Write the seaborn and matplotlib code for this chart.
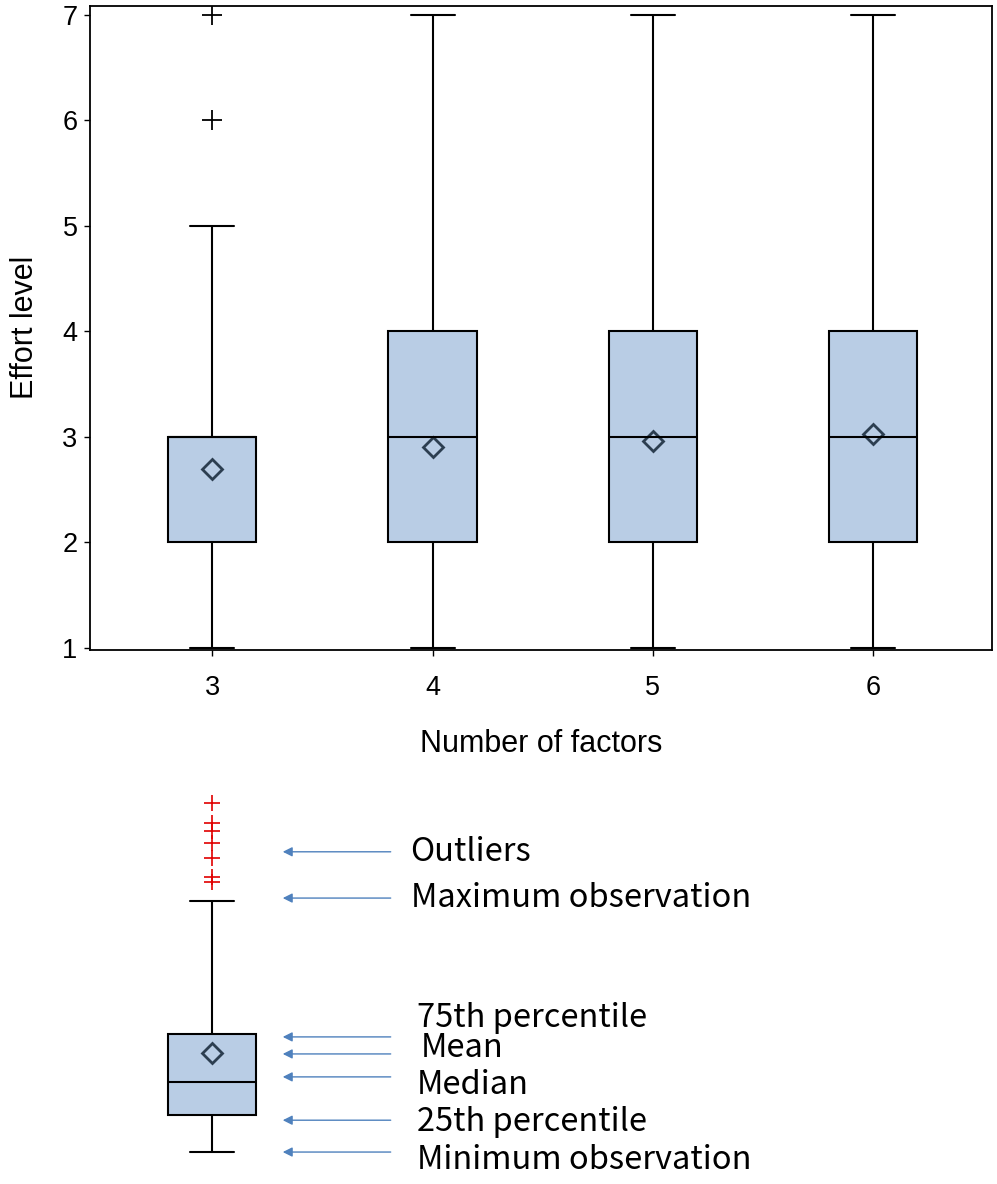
import pandas as pd
import matplotlib
matplotlib.use("Agg")
import matplotlib.pyplot as plt
import seaborn as sns

# Five-number summaries per group (min, q1, median, q3, max whisker)
factor_labels = ["3", "4", "5", "6"]
whisker_min = [1, 1, 1, 1]
q1_values = [2, 2, 2, 2]
median_values = [3, 3, 3, 3]
q3_values = [3, 4, 4, 4]
whisker_max = [5, 7, 7, 7]
mean_values = [2.70, 2.90, 2.96, 3.03]
outlier_groups = ["3", "3"]
outlier_values = [6, 7]

# Illustrative box for the key below the chart
key_summary = [1.0, 2.0, 2.89, 4.19, 7.78]   # min, q1, median, q3, max
key_mean = 3.68
key_outliers = [8.30, 8.43, 8.95, 9.35, 9.68, 9.89, 10.43]
key_labels = ["Outliers", "Maximum observation", "75th percentile", "Mean",
              "Median", "25th percentile", "Minimum observation"]
key_arrow_y = [9.11, 7.86, 4.11, 3.65, 3.03, 1.86, 1.0]
key_text_y = [9.11, 7.86, 4.62, 3.81, 2.81, 1.81, 0.78]
key_text_x = [0.90, 0.90, 0.93, 0.945, 0.93, 0.93, 0.93]

box_color = "#b9cde5"
mean_edge = "#2c3e50"

sns.set_theme(style="white")
tick_font = "Liberation Sans"
key_font = ["Noto Sans CJK KR", "DejaVu Sans"]

fig = plt.figure(figsize=(9.97, 11.84), dpi=100)
ax = fig.add_axes([0.0903, 0.451, 0.9047, 0.5443])
key_ax = fig.add_axes([0.0903, 0.0076, 0.9047, 0.3252])

# build long-form table from the summary lists
rows = []
for i, lab in enumerate(factor_labels):
    for v in (whisker_min[i], q1_values[i], median_values[i], q3_values[i], whisker_max[i]):
        rows.append({"factors": lab, "effort": v})
box_df = pd.DataFrame(rows)
mean_df = pd.DataFrame({"factors": factor_labels, "effort": mean_values})
out_df = pd.DataFrame({"factors": outlier_groups, "effort": outlier_values})

box_kws = dict(width=0.4, whis=(0, 100), color=box_color, saturation=1,
               linecolor="black", linewidth=1.5, showfliers=False)
mean_kws = dict(errorbar=None, linestyle="none", marker="D", markersize=10.5,
                markerfacecolor=box_color, markeredgecolor=mean_edge,
                markeredgewidth=2.0, color=mean_edge)

sns.boxplot(data=box_df, x="factors", y="effort", order=factor_labels, ax=ax, **box_kws)
sns.stripplot(data=out_df, x="factors", y="effort", order=factor_labels, ax=ax,
              jitter=False, marker="+", color="black", size=15, linewidth=1.3)
sns.pointplot(data=mean_df, x="factors", y="effort", order=factor_labels, ax=ax, **mean_kws)

ax.set_xlim(-0.555, 3.54)
ax.set_ylim(0.98, 7.088)
ax.set_yticks(range(1, 8))
for s in ax.spines.values():
    s.set_visible(True)
    s.set_color("black")
    s.set_linewidth(1.3)
ax.tick_params(axis="both", direction="out", length=4, width=1, color="black",
               labelsize=19.5, labelcolor="black", left=True, bottom=True)
ax.tick_params(axis="x", pad=14)
ax.tick_params(axis="y", pad=5)
for t in ax.get_xticklabels() + ax.get_yticklabels():
    t.set_fontfamily(tick_font)
ax.set_xlabel("Number of factors", fontsize=22, family=tick_font, color="black", labelpad=20)
ax.set_ylabel("Effort level", fontsize=22, family=tick_font, color="black", labelpad=16)

# key diagram
key_df = pd.DataFrame({"factors": ["key"] * len(key_summary), "effort": key_summary})
sns.boxplot(data=key_df, x="factors", y="effort", ax=key_ax, **box_kws)
sns.stripplot(x=["key"] * len(key_outliers), y=key_outliers, ax=key_ax,
              jitter=False, marker="+", color="#e00000", size=12, linewidth=1.2)
sns.pointplot(x=["key"], y=[key_mean], ax=key_ax, **mean_kws)

for lab, ya, yt, xt in zip(key_labels, key_arrow_y, key_text_y, key_text_x):
    key_ax.annotate("", xy=(0.32, ya), xytext=(0.81, ya),
                    arrowprops=dict(arrowstyle="-|>", color="#4f81bd", lw=1.0,
                                    mutation_scale=14, shrinkA=0, shrinkB=0))
    key_ax.text(xt, yt, lab, fontsize=23.5, family=key_font, va="center", ha="left",
                color="black")

key_ax.set_xlim(-0.555, 3.54)
key_ax.set_ylim(0.38, 10.78)
key_ax.axis("off")

fig.savefig("out.png", dpi=100)
